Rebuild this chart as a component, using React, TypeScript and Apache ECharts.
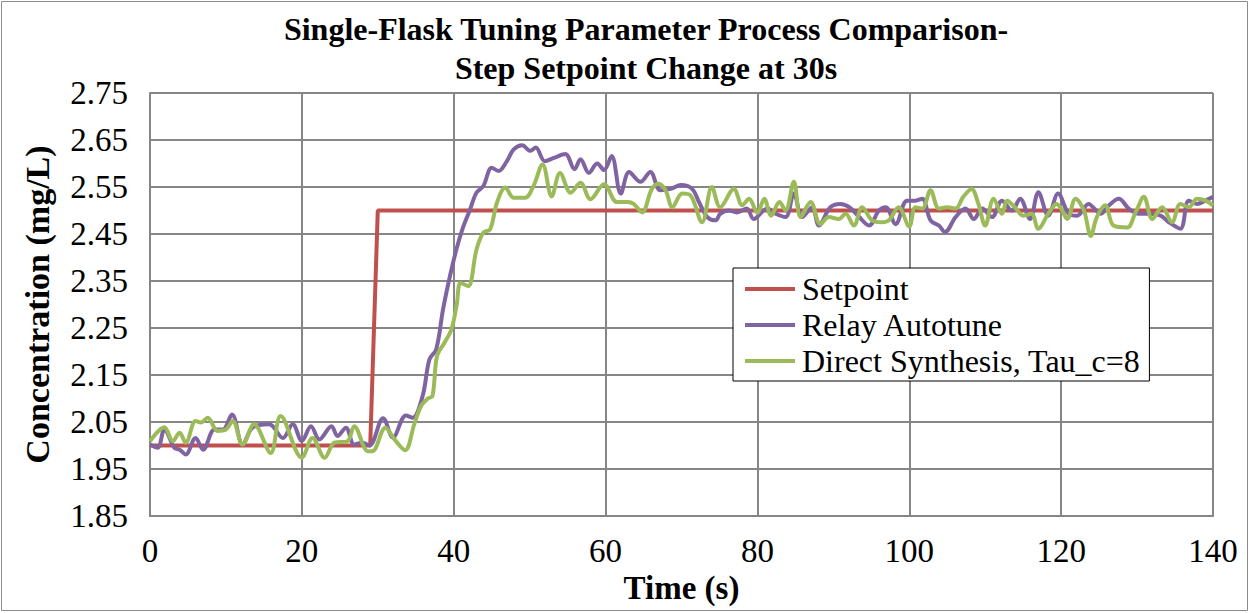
import React, { useEffect, useRef } from "react";
import * as echarts from "echarts";

const xTicks = [0, 20, 40, 60, 80, 100, 120, 140];
const yTickLabels = ["1.85", "1.95", "2.05", "2.15", "2.25", "2.35", "2.45", "2.55", "2.65", "2.75"];

const setpointT = [0, 29, 30, 140];
const setpointV = [2.0, 2.0, 2.5, 2.5];

const relayT = [0, 1, 1.9, 3.2, 3.9, 4.7, 6, 7, 8.5, 9.6, 10.8, 12.2, 13.5, 15.7, 17.5, 18.8, 20, 21.2, 22.3, 23.9, 24.7, 25.8, 26.9, 28, 28.9, 30.7, 32, 33.7, 34.6, 35.9, 36.8, 37.7, 38.6, 39.5, 40.35, 41.2, 42.1, 43, 43.9, 45, 45.9, 47, 47.9, 49, 50.1, 50.8, 52, 53.2, 54.7, 55.9, 56.7, 57.8, 58.9, 59.8, 60.8, 62, 63.1, 64.6, 65.9, 67.2, 68.6, 69.9, 71.4, 72.3, 73.4, 74.5, 75.1, 76.2, 77.3, 78.6, 79.5, 81.3, 82.4, 83.7, 84.8, 85.9, 87.2, 88.1, 89.6, 90.9, 92.1, 93.4, 94.7, 96, 96.9, 98.2, 99.7, 100.8, 101.7, 102.8, 103.9, 104.7, 106.1, 107.4, 108.5, 109.6, 110.9, 112.2, 113.5, 114.6, 115.9, 117, 118.3, 119.6, 121, 122.1, 123.6, 125.2, 126.3, 127.6, 128.9, 130.2, 131.5, 133.1, 134.2, 135.7, 136.8, 137.9, 139, 140];
const relayV = [2.002, 1.995, 2.034, 1.995, 1.991, 1.981, 2.016, 1.991, 2.034, 2.034, 2.066, 2.002, 2.038, 2.045, 2.016, 2.045, 2.01, 2.041, 2.013, 2.041, 2.02, 2.038, 2.002, 2.006, 2.0, 2.058, 2.017, 2.064, 2.059, 2.105, 2.183, 2.205, 2.29, 2.36, 2.417, 2.463, 2.5, 2.538, 2.552, 2.591, 2.584, 2.605, 2.63, 2.639, 2.627, 2.634, 2.605, 2.612, 2.62, 2.588, 2.609, 2.58, 2.6, 2.586, 2.616, 2.536, 2.582, 2.561, 2.582, 2.543, 2.546, 2.554, 2.546, 2.518, 2.486, 2.479, 2.493, 2.5, 2.496, 2.504, 2.482, 2.504, 2.493, 2.486, 2.536, 2.486, 2.507, 2.468, 2.507, 2.514, 2.507, 2.486, 2.468, 2.5, 2.507, 2.471, 2.521, 2.521, 2.525, 2.479, 2.468, 2.454, 2.486, 2.504, 2.482, 2.504, 2.486, 2.521, 2.5, 2.525, 2.482, 2.539, 2.489, 2.536, 2.493, 2.489, 2.514, 2.493, 2.511, 2.525, 2.504, 2.493, 2.493, 2.489, 2.475, 2.461, 2.521, 2.514, 2.521, 2.529];

const directT = [0, 1.9, 3, 3.9, 4.7, 6, 6.7, 7.6, 8.9, 10, 10.9, 12.2, 13.7, 15.9, 17.2, 20, 21.4, 23, 24.3, 26, 26.9, 28.7, 29.3, 31, 32.2, 33.6, 34.8, 35.7, 36.6, 37.2, 37.8, 38.8, 39.7, 40.4, 40.9, 41.9, 43, 43.9, 44.8, 45.7, 46.8, 47.9, 49.4, 50.5, 51.7, 52.9, 54, 55.4, 56.7, 58, 59.8, 61.5, 62.9, 63.7, 64.8, 66.1, 67, 67.9, 68.8, 70.1, 71.2, 72.7, 74, 75.1, 76.9, 78, 78.9, 80, 80.9, 81.8, 82.9, 83.7, 84.8, 85.7, 87, 88.3, 89.4, 90.7, 91.6, 92.7, 93.8, 95.1, 96.4, 97.3, 98.6, 100, 100.8, 101.7, 102.8, 103.9, 105, 106.1, 107.1, 108.2, 109.1, 110, 111.1, 112.2, 112.9, 113.9, 115, 116.1, 117, 118.3, 119.4, 120, 120.8, 121.9, 123, 123.9, 124.7, 125.8, 126.9, 128.7, 129.8, 130.9, 132, 133.3, 134.6, 135.7, 136.8, 137.9, 139, 140];
const directV = [2.009, 2.039, 2.009, 2.027, 2.006, 2.052, 2.049, 2.059, 2.031, 2.034, 2.052, 2.002, 2.045, 1.984, 2.063, 1.974, 2.016, 1.974, 2.006, 2.009, 2.041, 1.988, 1.988, 2.038, 2.013, 1.99, 2.045, 2.084, 2.1, 2.105, 2.19, 2.219, 2.247, 2.3, 2.346, 2.339, 2.417, 2.453, 2.46, 2.517, 2.549, 2.527, 2.527, 2.552, 2.598, 2.53, 2.58, 2.538, 2.559, 2.524, 2.556, 2.518, 2.518, 2.514, 2.496, 2.546, 2.557, 2.543, 2.507, 2.536, 2.532, 2.475, 2.55, 2.507, 2.546, 2.511, 2.525, 2.495, 2.525, 2.489, 2.518, 2.5, 2.561, 2.486, 2.518, 2.471, 2.486, 2.482, 2.493, 2.468, 2.507, 2.479, 2.475, 2.479, 2.507, 2.466, 2.507, 2.504, 2.543, 2.504, 2.507, 2.504, 2.529, 2.546, 2.514, 2.468, 2.525, 2.493, 2.521, 2.507, 2.489, 2.493, 2.461, 2.493, 2.514, 2.504, 2.482, 2.525, 2.5, 2.446, 2.486, 2.511, 2.468, 2.464, 2.496, 2.529, 2.482, 2.507, 2.475, 2.514, 2.507, 2.525, 2.521, 2.511];

const zip = (t: number[], v: number[]) => t.map((x, i) => [x, v[i]]);

const FONT = "Liberation Serif";

export default function App() {
  const ref = useRef<HTMLDivElement>(null);
  useEffect(() => {
    const chart = echarts.init(ref.current!, undefined, { renderer: "svg" });
    chart.setOption({
      animation: false,
      backgroundColor: "#ffffff",
      textStyle: { fontFamily: FONT },
      title: {
        text: "Single-Flask Tuning Parameter Process Comparison-\nStep Setpoint Change at 30s",
        left: 641,
        textAlign: "center",
        top: 4,
        textStyle: { fontFamily: FONT, fontSize: 32, fontWeight: "bold", color: "#000", lineHeight: 39 },
      },
      graphic: [
        {
          type: "rect",
          shape: { x: 1.5, y: 1.5, width: 1246, height: 609 },
          style: { fill: "none", stroke: "#8c8c8c", lineWidth: 1 },
          silent: true,
        },
      ],
      grid: { left: 150, right: 37, top: 93, bottom: 97 },
      legend: {
        orient: "vertical",
        left: 733,
        top: 268,
        backgroundColor: "#ffffff",
        borderColor: "#000000",
        borderWidth: 1,
        borderRadius: 0,
        padding: [5, 9, 4, 12],
        itemWidth: 50,
        itemHeight: 4,
        itemGap: 4,
        icon: "rect",
        textStyle: { fontFamily: FONT, fontSize: 32, color: "#000", lineHeight: 30, padding: [0, 0, 0, 2] },
        data: ["Setpoint", "Relay Autotune", "Direct Synthesis, Tau_c=8"],
      },
      xAxis: {
        type: "value",
        min: 0,
        max: 140,
        interval: 20,
        name: "Time (s)",
        nameLocation: "middle",
        nameGap: 49,
        nameTextStyle: { fontFamily: FONT, fontSize: 33, fontWeight: "bold", color: "#000" },
        axisLine: { show: true, lineStyle: { color: "#868686", width: 2 } },
        axisTick: { show: false },
        axisLabel: {
          fontFamily: FONT,
          fontSize: 33,
          color: "#000",
          margin: 18,
          formatter: (v: number) => (xTicks.includes(v) ? String(v) : ""),
        },
        splitLine: { show: true, lineStyle: { color: "#868686", width: 2 } },
      },
      yAxis: {
        type: "value",
        min: 1.85,
        max: 2.75,
        interval: 0.1,
        name: "Concentration (mg/L)",
        nameLocation: "middle",
        nameRotate: 90,
        nameGap: 96,
        nameTextStyle: { fontFamily: FONT, fontSize: 34, fontWeight: "bold", color: "#000" },
        axisLine: { show: true, lineStyle: { color: "#868686", width: 2 } },
        axisTick: { show: false },
        axisLabel: {
          fontFamily: FONT,
          fontSize: 33,
          color: "#000",
          margin: 22,
          formatter: (v: number) => {
            const s = v.toFixed(2);
            return yTickLabels.includes(s) ? s : "";
          },
        },
        splitLine: { show: true, lineStyle: { color: "#868686", width: 2 } },
      },
      series: [
        {
          name: "Setpoint",
          type: "line",
          data: zip(setpointT, setpointV),
          showSymbol: false,
          symbol: "none",
          lineStyle: { color: "#C0504D", width: 4 },
          itemStyle: { color: "#C0504D" },
          z: 2,
        },
        {
          name: "Relay Autotune",
          type: "line",
          data: zip(relayT, relayV),
          showSymbol: false,
          symbol: "none",
          smooth: 0.35,
          lineStyle: { color: "#8064A2", width: 4 },
          itemStyle: { color: "#8064A2" },
          z: 3,
        },
        {
          name: "Direct Synthesis, Tau_c=8",
          type: "line",
          data: zip(directT, directV),
          showSymbol: false,
          symbol: "none",
          smooth: 0.35,
          lineStyle: { color: "#9BBB59", width: 4 },
          itemStyle: { color: "#9BBB59" },
          z: 4,
        },
      ],
    });
    return () => chart.dispose();
  }, []);
  return (
    <div
      ref={ref}
      style={{ position: "fixed", left: 0, top: 0, width: 1250, height: 613 }}
    />
  );
}
